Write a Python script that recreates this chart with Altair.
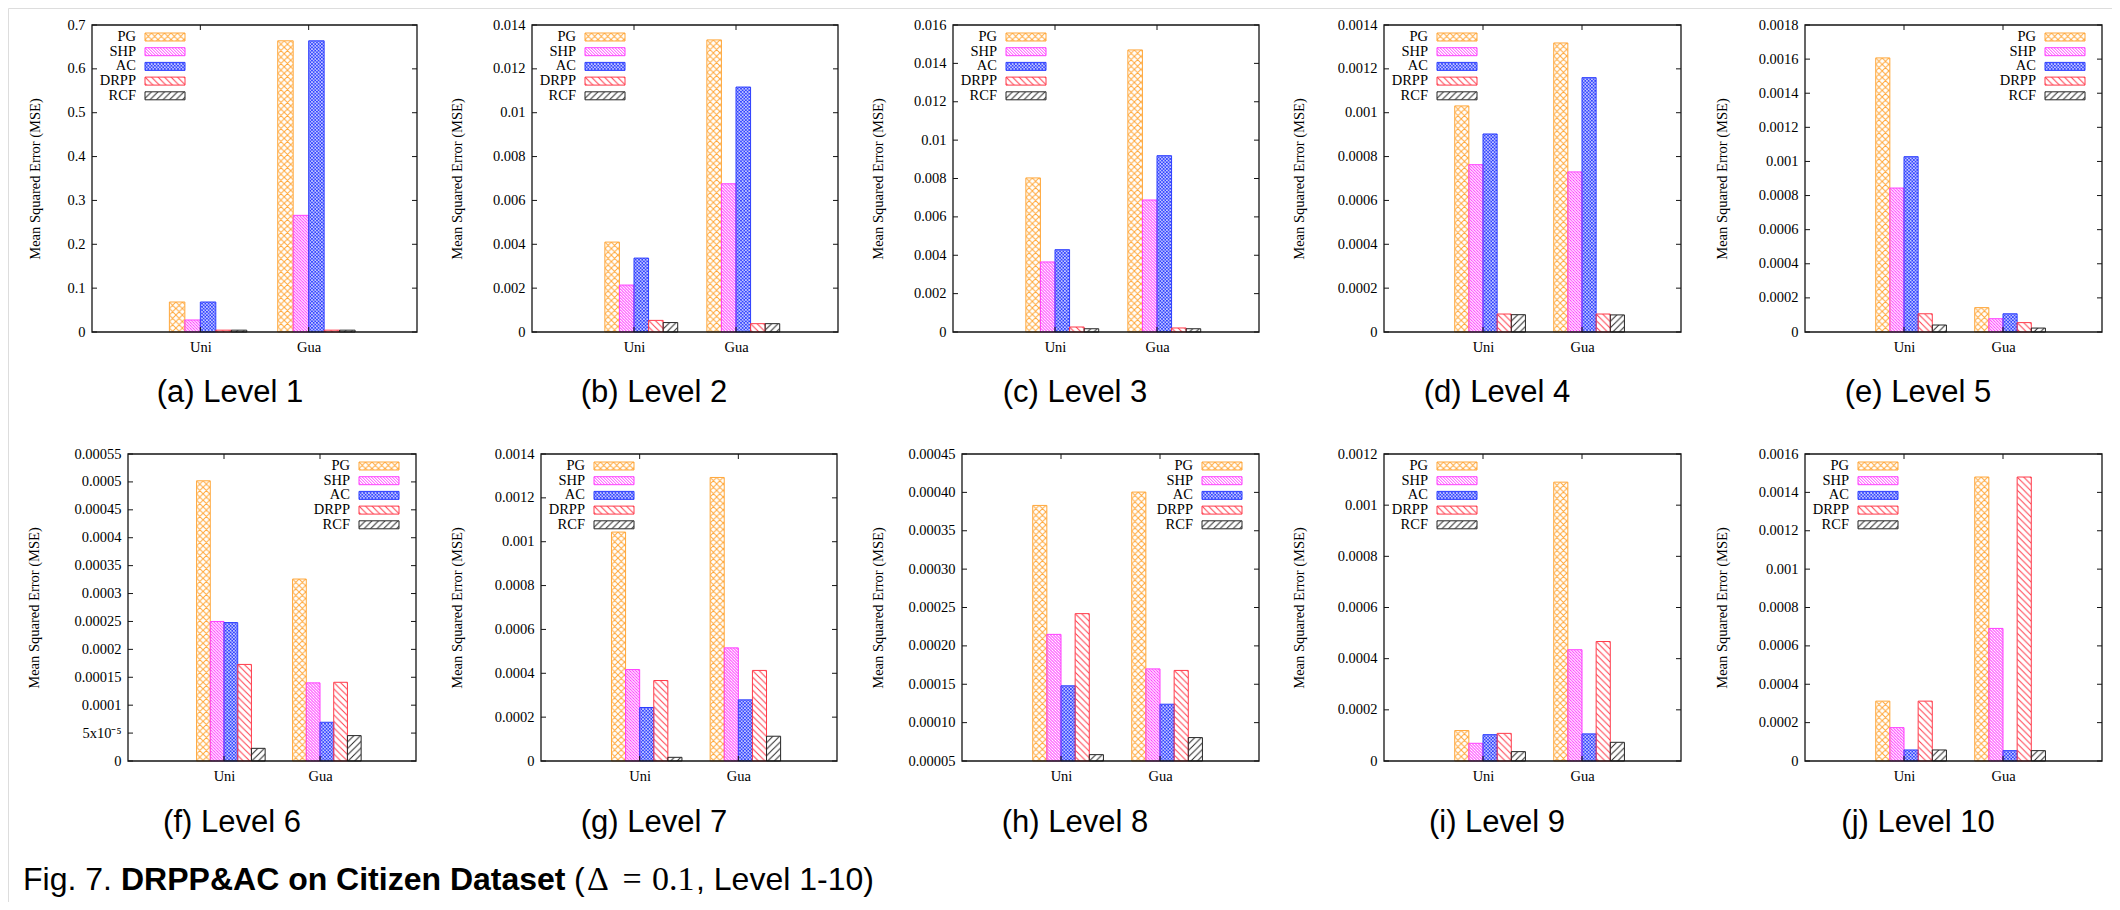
import base64
import altair as alt
import pandas as pd

# ---------------- data ----------------
series = ["PG", "SHP", "AC", "DRPP", "RCF"]
categories = ["Uni", "Gua"]
levels = list(range(1, 11))

# values: [PG, SHP, AC, DRPP, RCF]
L1_uni = [0.0684, 0.0274, 0.0684, 0.0042, 0.0042]
L1_gua = [0.664, 0.266, 0.664, 0.0042, 0.0042]
L2_uni = [0.0041, 0.00214, 0.00337, 0.00053, 0.00043]
L2_gua = [0.01332, 0.00676, 0.01117, 0.00038, 0.00038]
L3_uni = [0.00803, 0.00365, 0.00429, 0.00026, 0.00017]
L3_gua = [0.0147, 0.00688, 0.00919, 0.00021, 0.00017]
L4_uni = [0.001031, 0.000763, 0.000903, 0.000082, 0.000079]
L4_gua = [0.001318, 0.00073, 0.00116, 0.000082, 0.000078]
L5_uni = [0.001607, 0.000844, 0.001028, 0.000107, 0.000041]
L5_gua = [0.000143, 0.000078, 0.000107, 0.000055, 0.000023]
L6_uni = [0.000502, 0.00025, 0.000248, 0.000173, 0.0000227]
L6_gua = [0.000326, 0.00014, 0.0000694, 0.000141, 0.0000455]
L7_uni = [0.001044, 0.000417, 0.000244, 0.000367, 0.0000168]
L7_gua = [0.001293, 0.000516, 0.000279, 0.000413, 0.000113]
L8_uni = [0.000383, 0.000215, 0.000148, 0.000242, 0.0000583]
L8_gua = [0.0004004, 0.00017, 0.000124, 0.000168, 0.0000805]
L9_uni = [0.000119, 0.0000692, 0.000103, 0.000108, 0.0000366]
L9_gua = [0.00109, 0.000435, 0.000106, 0.000467, 0.0000731]
L10_uni = [0.000312, 0.000174, 0.0000575, 0.000312, 0.0000575]
L10_gua = [0.00148, 0.000691, 0.000054, 0.00148, 0.000054]

values = {
    1: (L1_uni, L1_gua), 2: (L2_uni, L2_gua), 3: (L3_uni, L3_gua),
    4: (L4_uni, L4_gua), 5: (L5_uni, L5_gua), 6: (L6_uni, L6_gua),
    7: (L7_uni, L7_gua), 8: (L8_uni, L8_gua), 9: (L9_uni, L9_gua),
    10: (L10_uni, L10_gua),
}

# y axis ranges / tick steps per level
y_lo = [0, 0, 0, 0, 0, 0, 0, 0.00005, 0, 0]
y_hi = [0.7, 0.014, 0.016, 0.0014, 0.0018, 0.00055, 0.0014, 0.00045, 0.0012, 0.0016]
y_step = [0.1, 0.002, 0.002, 0.0002, 0.0002, 0.00005, 0.0002, 0.00005, 0.0002, 0.0002]
letters = list("abcdefghij")

# ---------------- styles ----------------
SERIF = "Liberation Serif"
SANS = "Liberation Sans"
BORDER = "#151515"
colors = ["#ffa73a", "#ff3dff", "#2a3cff", "#ff3a4a", "#262626"]
pattern_kind = ["x", "back", "x", "back", "fwd"]
pattern_size = [6.5, 3.0, 3.3, 6.5, 6.5]
pattern_width = [1.0, 1.0, 1.0, 1.0, 1.0]

# ---------------- layout (page pixels) ----------------
OFF = 8
TOTAL_W, TOTAL_H = 2104, 894
p_left = [92, 532, 953, 1384, 1805, 128, 541, 962, 1384, 1805]
p_right = [417, 838, 1259, 1681, 2102, 416, 837, 1259, 1681, 2102]
p_top = [25] * 5 + [454] * 5
p_bottom = [332] * 5 + [761] * 5
ytitle_x = [35, 457, 878, 1299, 1722, 34, 457, 878, 1299, 1722]
cap_cx = [230, 654, 1075, 1497, 1918, 232, 654, 1075, 1497, 1918]
cap_base = [402] * 5 + [832] * 5
legend_side = ["left", "left", "left", "left", "right",
               "right", "left", "right", "left", "left"]


def svg_uri(color, kind, s, sw):
    back = (f"M0,0L{s},{s}M{-s/2},{s/2}L{s/2},{1.5*s}"
            f"M{s/2},{-s/2}L{1.5*s},{s/2}")
    fwd = (f"M0,{s}L{s},0M{-s/2},{s/2}L{s/2},{-s/2}"
           f"M{s/2},{1.5*s}L{1.5*s},{s/2}")
    d = {"back": back, "fwd": fwd, "x": back + fwd}[kind]
    svg = (
        "<svg xmlns='http://www.w3.org/2000/svg' width='100%' height='100%'>"
        f"<defs><pattern id='p' patternUnits='userSpaceOnUse' width='{s}' height='{s}'>"
        f"<path d='{d}' stroke='{color}' stroke-width='{sw}' fill='none'/>"
        "</pattern></defs>"
        "<rect x='0' y='0' width='100%' height='100%' fill='url(#p)'/></svg>"
    )
    return "data:image/svg+xml;base64," + base64.b64encode(svg.encode()).decode()


urls = [svg_uri(c, k, s, w) for c, k, s, w in
        zip(colors, pattern_kind, pattern_size, pattern_width)]
url_of = dict(zip(series, urls))

rows = []
for lv in levels:
    for ci, cat in enumerate(categories):
        for si, s in enumerate(series):
            rows.append({"level": lv, "cat": cat, "ci": ci, "series": s,
                         "si": si, "v": values[lv][ci][si], "url": url_of[s]})
df = pd.DataFrame(rows)
legend_df = pd.DataFrame({"series": series, "idx": list(range(5)), "url": urls})
one = pd.DataFrame({"a": [0]})
color_scale = alt.Scale(domain=series, range=colors)


def make_panel(k):
    i = k - 1
    lo, hi, st = y_lo[i], y_hi[i], y_step[i]
    x0, x1 = p_left[i] - OFF, p_right[i] - OFF
    yt, yb = p_top[i] - OFF, p_bottom[i] - OFF
    nt = int(round((hi - lo) / st))
    ticks = [round(lo + j * st, 10) for j in range(nt + 1)]
    if k == 8:
        lab = "format(datum.value, '.5f')"
    elif k == 6:
        lab = ("abs(datum.value - 0.00005) < 1e-12 ? '5x10\u207b\u2075' : "
               "format(datum.value, '~g')")
    else:
        lab = "format(datum.value, '~g')"

    xscale = alt.Scale(domain=[-1, 2], range=[x0, x1], nice=False, zero=False)
    yscale = alt.Scale(domain=[lo, hi], range=[yb, yt], nice=False, zero=False)
    xaxis = alt.Axis(orient="bottom", offset=yb - TOTAL_H, values=[0, 1],
                     labelExpr="datum.value == 0 ? 'Uni' : 'Gua'",
                     ticks=False, tickSize=0, domain=False, grid=False, title=None,
                     labelFont=SERIF, labelFontSize=14.5, labelColor="black",
                     labelPadding=8, labelFlush=False, labelOverlap=False)
    yaxis = alt.Axis(orient="left", offset=-x0, values=ticks, labelExpr=lab,
                     ticks=False, tickSize=0, domain=False, grid=False,
                     title="Mean Squared Error (MSE)",
                     titleFont=SERIF, titleFontSize=14.5, titleFontWeight="normal",
                     titleColor="black", titleX=ytitle_x[i] - p_left[i],
                     titleBaseline="middle", titleAngle=270,
                     labelFont=SERIF, labelFontSize=14.5, labelColor="black",
                     labelPadding=7, labelFlush=False, labelOverlap=False)

    base = alt.Chart(df).transform_filter(alt.datum.level == k).transform_calculate(
        x0="datum.ci + (datum.si - 2) / 7",
        x1="datum.ci + (datum.si - 1) / 7",
        y0=repr(float(lo)),
    )
    imgs = base.mark_image(aspect=False).encode(
        x=alt.X("x0:Q", scale=xscale, axis=xaxis), x2="x1:Q",
        y=alt.Y("v:Q", scale=yscale, axis=yaxis), y2="y0:Q",
        url="url:N",
    )
    outl = base.mark_rect(fillOpacity=0, strokeWidth=1).encode(
        x=alt.X("x0:Q", scale=xscale, axis=xaxis), x2="x1:Q",
        y=alt.Y("v:Q", scale=yscale, axis=yaxis), y2="y0:Q",
        stroke=alt.Stroke("series:N", scale=color_scale, legend=None),
    )

    tdf = pd.DataFrame({"t": ticks})
    xdf = pd.DataFrame({"p": [0, 1]})
    lt = alt.Chart(tdf).mark_rule(color=BORDER, strokeWidth=1).encode(
        y=alt.Y("t:Q", scale=yscale, axis=yaxis), x=alt.value(x0), x2=alt.value(x0 + 5))
    rt = alt.Chart(tdf).mark_rule(color=BORDER, strokeWidth=1).encode(
        y=alt.Y("t:Q", scale=yscale, axis=yaxis), x=alt.value(x1 - 5), x2=alt.value(x1))
    bt = alt.Chart(xdf).mark_rule(color=BORDER, strokeWidth=1).encode(
        x=alt.X("p:Q", scale=xscale, axis=xaxis), y=alt.value(yb - 5), y2=alt.value(yb))
    tt = alt.Chart(xdf).mark_rule(color=BORDER, strokeWidth=1).encode(
        x=alt.X("p:Q", scale=xscale, axis=xaxis), y=alt.value(yt), y2=alt.value(yt + 5))
    frame = alt.Chart(one).mark_rect(fillOpacity=0, stroke=BORDER, strokeWidth=1.3).encode(
        x=alt.value(x0), x2=alt.value(x1), y=alt.value(yt), y2=alt.value(yb))

    if legend_side[i] == "left":
        tx, sx0, sx1 = x0 + 44, x0 + 53, x0 + 93
    else:
        tx, sx0, sx1 = x1 - 66, x1 - 57, x1 - 17
    lg = alt.Chart(legend_df).transform_calculate(
        ly=f"{yt + 12} + 14.7 * datum.idx",
        ly0=f"{yt + 8} + 14.7 * datum.idx",
        ly1=f"{yt + 16} + 14.7 * datum.idx",
    )
    ltxt = lg.mark_text(align="right", baseline="middle", font=SERIF,
                        fontSize=14.5, color="black").encode(
        x=alt.value(tx), y=alt.Y("ly:Q", scale=None), text="series:N")
    limg = lg.mark_image(aspect=False).encode(
        x=alt.value(sx0), x2=alt.value(sx1),
        y=alt.Y("ly0:Q", scale=None), y2="ly1:Q", url="url:N")
    lrect = lg.mark_rect(fillOpacity=0, strokeWidth=1).encode(
        x=alt.value(sx0), x2=alt.value(sx1),
        y=alt.Y("ly0:Q", scale=None), y2="ly1:Q",
        stroke=alt.Stroke("series:N", scale=color_scale, legend=None))

    sub = alt.Chart(one).mark_text(align="center", baseline="alphabetic", font=SANS,
                                   fontSize=31, color="black").encode(
        x=alt.value(cap_cx[i] - OFF), y=alt.value(cap_base[i] - OFF),
        text=alt.value(f"({letters[i]}) Level {k}"))

    return alt.layer(imgs, outl, lt, rt, bt, tt, frame, limg, lrect, ltxt, sub)


panels = [make_panel(k) for k in levels]

# figure caption (mixed styles)
CAP = 32
cap_y = 890 - OFF
segs = [
    ("Fig. 7.", 23, SANS, "normal", "left", CAP),
    ("DRPP&AC on Citizen Dataset", 121, SANS, "bold", "left", CAP),
    ("(", 574, SANS, "normal", "left", CAP),
    ("\u0394", 598, SERIF, "normal", "center", 34),
    ("=", 632, SERIF, "normal", "center", 34),
    ("0.1", 652, SERIF, "normal", "left", 34),
    (", Level 1-10)", 696, SANS, "normal", "left", CAP),
]
cap_layers = [
    alt.Chart(one).mark_text(align=a, baseline="alphabetic", font=f,
                             fontSize=fs, fontWeight=w, color="black").encode(
        x=alt.value(x - OFF), y=alt.value(cap_y), text=alt.value(t))
    for t, x, f, w, a, fs in segs
]

chart = alt.layer(*panels, *cap_layers).resolve_scale(
    x="independent", y="independent"
).properties(
    width=TOTAL_W, height=TOTAL_H, padding=0
).configure_view(
    stroke="transparent"
).configure(background="white")

chart.save("out.html", embed_options={"renderer": "svg", "actions": False})
